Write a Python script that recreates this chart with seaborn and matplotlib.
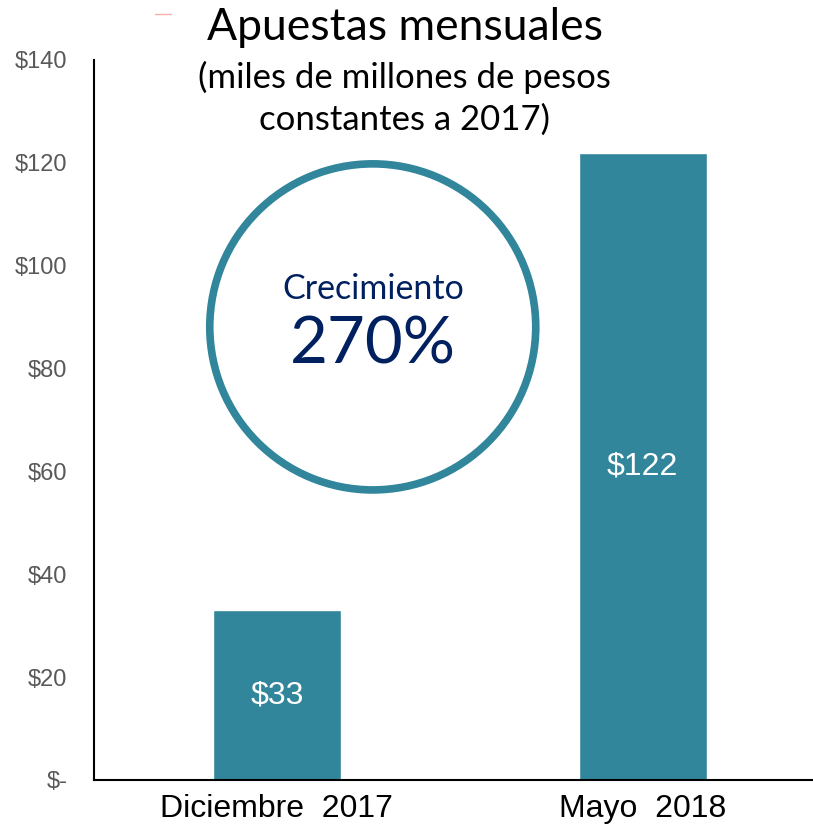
import matplotlib
matplotlib.use("Agg")
import matplotlib.pyplot as plt
import seaborn as sns
import pandas as pd
from matplotlib.patches import Ellipse
from matplotlib.lines import Line2D

periodos = ["Diciembre  2017", "Mayo  2018"]
apuestas = [33, 122]
etiquetas = ["$33", "$122"]
ticks_y = [0, 20, 40, 60, 80, 100, 120, 140]
ticks_y_txt = ["$-", "$20", "$40", "$60", "$80", "$100", "$120", "$140"]

TEAL = "#31869B"
NAVY = "#002060"

sns.set_theme(style="white")
plt.rcParams["font.family"] = ["Liberation Sans", "DejaVu Sans"]

df = pd.DataFrame({"periodo": periodos, "apuestas": apuestas})

fig = plt.figure(figsize=(8.13, 8.26), dpi=100)
ax = fig.add_axes([0.1156, 0.0557, 0.9, 0.8717])

sns.barplot(data=df, x="periodo", y="apuestas", color=TEAL, saturation=1,
            width=0.35, ax=ax)

ax.set_xlim(-0.5, 1.5)
ax.set_ylim(0, 140)
ax.set_yticks(ticks_y)
ax.set_yticklabels(ticks_y_txt, color="#595959", fontsize=17)
ax.tick_params(axis="y", length=0, pad=19)
ax.tick_params(axis="x", length=0, pad=10, labelsize=23, labelcolor="black")
ax.set_xlabel("")
ax.set_ylabel("")
for s in ["top", "right"]:
    ax.spines[s].set_visible(False)
for s in ["left", "bottom"]:
    ax.spines[s].set_color("black")
    ax.spines[s].set_linewidth(1.5)

# etiquetas dentro de las barras
for i, (v, t) in enumerate(zip(apuestas, etiquetas)):
    ax.text(i, v / 2, t, ha="center", va="center", color="white", fontsize=23)

# circulo de crecimiento
circ = Ellipse((0.262, 88.1), width=0.891, height=63.4, fill=False,
               edgecolor=TEAL, linewidth=5.5, clip_on=False)
ax.add_patch(circ)
ax.text(0.262, 95.5, "Crecimiento", ha="center", va="center", color=NAVY,
        fontsize=24.5, family=["Lato", "DejaVu Sans"])
ax.text(0.262, 84.5, "270%", ha="center", va="center", color=NAVY,
        fontsize=47, family=["Lato", "DejaVu Sans"])

# titulos
fig.text(0.498, 0.967, "Apuestas mensuales", ha="center", va="center",
         fontsize=32, family=["Lato", "DejaVu Sans"], color="black")
fig.text(0.498, 0.906, "(miles de millones de pesos", ha="center", va="center",
         fontsize=25, family=["Lato", "DejaVu Sans"], color="black")
fig.text(0.498, 0.855, "constantes a 2017)", ha="center", va="center",
         fontsize=25, family=["Lato", "DejaVu Sans"], color="black")

fig.add_artist(Line2D([0.191, 0.21], [0.983, 0.983], color="#f6b0b0", lw=1))

fig.savefig("out.png", dpi=100)
